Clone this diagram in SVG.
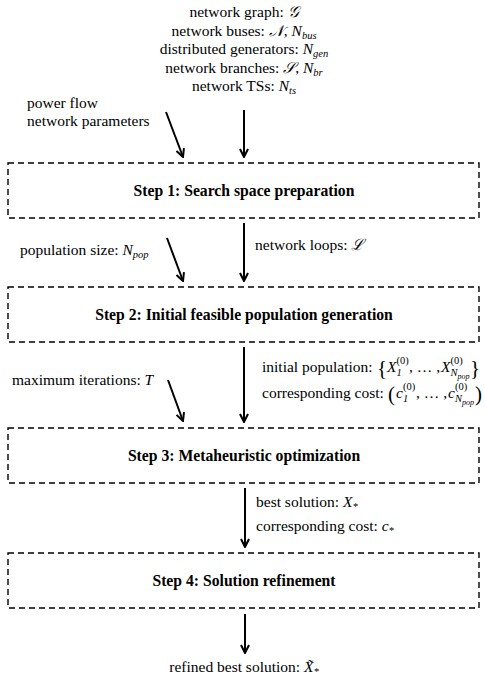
<svg xmlns="http://www.w3.org/2000/svg" width="485" height="679" viewBox="0 0 485 679">
<style>
text{font-family:"Liberation Serif","Times New Roman",serif;font-size:15.5px;fill:#000}
.b{font-weight:bold;font-size:15.7px}
.m{font-style:italic}
.s{font-style:italic;font-size:10.5px}
.ss{font-style:italic;font-size:8px}
.u{font-size:10.5px}
.br{font-size:21px}
.box{fill:none;stroke:#000;stroke-width:1.4;stroke-dasharray:6,4}
.arr{fill:none;stroke:#000;stroke-width:2;marker-end:url(#ah)}
</style>
<defs>
<marker id="ah" viewBox="0 0 10 10" refX="9" refY="5" markerWidth="5" markerHeight="5" orient="auto" markerUnits="strokeWidth">
<path d="M1,1 L9,5 L1,9" fill="none" stroke="#000" stroke-width="2"/>
</marker>
</defs>

<g id="inputs-top">
<text x="244" y="17" text-anchor="middle">network graph: <tspan class="m">𝒢</tspan></text>
<text x="244" y="36" text-anchor="middle">network buses: <tspan class="m">𝒩</tspan>, <tspan class="m">N</tspan><tspan class="s" dy="3">bus</tspan></text>
<text x="244" y="54" text-anchor="middle">distributed generators: <tspan class="m">N</tspan><tspan class="s" dy="3">gen</tspan></text>
<text x="244" y="73" text-anchor="middle">network branches: <tspan class="m">𝒮</tspan>, <tspan class="m">N</tspan><tspan class="s" dy="3">br</tspan></text>
<text x="244" y="91" text-anchor="middle">network TSs: <tspan class="m">N</tspan><tspan class="s" dy="3">ts</tspan></text>
<text x="27" y="108">power flow</text>
<text x="27" y="126">network parameters</text>
</g>

<g id="step1">
<rect class="box" x="8" y="163" width="471" height="55"/>
<text class="b" x="244" y="196" text-anchor="middle">Step 1: Search space preparation</text>
</g>

<g id="inputs-step2">
<text x="20" y="255">population size: <tspan class="m">N</tspan><tspan class="s" dy="3">pop</tspan></text>
<text x="255" y="250">network loops: <tspan class="m">ℒ</tspan></text>
</g>

<g id="step2">
<rect class="box" x="8" y="287" width="471" height="55"/>
<text class="b" x="244" y="320" text-anchor="middle">Step 2: Initial feasible population generation</text>
</g>

<g id="inputs-step3">
<text x="262" y="372">initial population: <tspan class="br" x="377" y="375">{</tspan><tspan class="m" x="387" y="372">X</tspan><tspan class="s" x="396.5" y="376">1</tspan><tspan class="u" x="396.5" y="364">(0)</tspan><tspan x="409" y="372">, … ,</tspan><tspan class="m" x="441" y="372">X</tspan><tspan class="s" x="450.5" y="376">N</tspan><tspan class="ss" x="457.5" y="379">pop</tspan><tspan class="u" x="450.5" y="364">(0)</tspan><tspan class="br" x="470" y="375">}</tspan></text>
<text x="262" y="398">corresponding cost: <tspan class="br" x="388" y="401">(</tspan><tspan class="m" x="396" y="398">c</tspan><tspan class="s" x="403" y="402">1</tspan><tspan class="u" x="403" y="390">(0)</tspan><tspan x="416" y="398">, … ,</tspan><tspan class="m" x="448" y="398">c</tspan><tspan class="s" x="455" y="402">N</tspan><tspan class="ss" x="462" y="405">pop</tspan><tspan class="u" x="455" y="390">(0)</tspan><tspan class="br" x="475" y="401">)</tspan></text>
<text x="12" y="385">maximum iterations: <tspan class="m">T</tspan></text>
</g>

<g id="step3">
<rect class="box" x="8" y="428" width="471" height="55"/>
<text class="b" x="244" y="461" text-anchor="middle">Step 3: Metaheuristic optimization</text>
</g>

<g id="inputs-step4">
<text x="256" y="507">best solution: <tspan class="m">X</tspan><tspan class="s" dy="3">*</tspan></text>
<text x="256" y="531">corresponding cost: <tspan class="m">c</tspan><tspan class="s" dy="3">*</tspan></text>
</g>

<g id="step4">
<rect class="box" x="8" y="553" width="471" height="55"/>
<text class="b" x="244" y="586" text-anchor="middle">Step 4: Solution refinement</text>
</g>

<g id="output">
<text x="244" y="672" text-anchor="middle">refined best solution: <tspan class="m">X̃</tspan><tspan class="s" dy="3">*</tspan></text>
</g>

<g id="connectors">
<line class="arr" x1="166" y1="112" x2="183" y2="157"/>
<line class="arr" x1="244" y1="110" x2="244" y2="157"/>
<line class="arr" x1="167" y1="238" x2="183" y2="281"/>
<line class="arr" x1="244" y1="223" x2="244" y2="281"/>
<line class="arr" x1="168" y1="380" x2="183" y2="421"/>
<line class="arr" x1="244" y1="347" x2="244" y2="422"/>
<line class="arr" x1="245" y1="488" x2="245" y2="547"/>
<line class="arr" x1="245" y1="614" x2="245" y2="653"/>
</g>
</svg>
